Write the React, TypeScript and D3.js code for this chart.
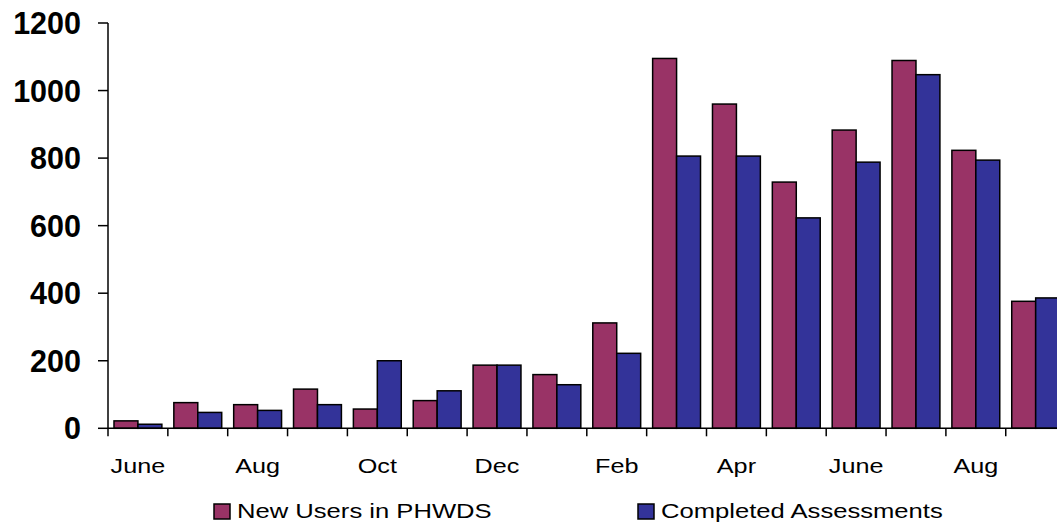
import React from "react";
import * as d3 from "d3";

// Monthly counts, June through the following September
const months = ["June", "July", "Aug", "Sept", "Oct", "Nov", "Dec", "Jan", "Feb", "Mar", "Apr", "May", "June", "July", "Aug", "Sept"];
const tickLabels = ["June", "", "Aug", "", "Oct", "", "Dec", "", "Feb", "", "Apr", "", "June", "", "Aug", ""];
const newUsers = [22, 76, 70, 116, 57, 82, 187, 159, 312, 1095, 960, 729, 883, 1089, 823, 376];
const completedAssessments = [12, 47, 53, 70, 200, 111, 187, 129, 222, 806, 806, 623, 788, 1047, 794, 386];
const yTicks = [0, 200, 400, 600, 800, 1000, 1200];

const seriesNames = ["New Users in PHWDS", "Completed Assessments"];
const seriesColors = ["#993366", "#333399"];

const W = 1057;
const H = 523;
const left = 108;
const step = 59.85;
const top = 23;
const bottom = 428.3;

export default function App() {
  const idx = months.map((_, i) => i);
  const x = d3.scaleBand<number>().domain(idx).range([left, left + step * months.length]).padding(0);
  const sub = d3
    .scaleBand<number>()
    .domain([0, 1])
    .range([0, x.bandwidth()])
    .paddingInner(0)
    .paddingOuter(0.25);
  const y = d3.scaleLinear().domain([0, 1200]).range([bottom, top]);
  const series = [newUsers, completedAssessments];
  const font = "'Liberation Sans', Arial, sans-serif";

  const boundaries = d3.range(months.length + 1).map((i) => left + i * x.step());

  return (
    <svg width={W} height={H} style={{ position: "absolute", left: 0, top: 0, background: "#fff" }}>
      {/* bars */}
      {idx.map((i) =>
        series.map((vals, s) => (
          <rect
            key={`${i}-${s}`}
            x={(x(i) as number) + (sub(s) as number)}
            y={y(vals[i])}
            width={sub.bandwidth()}
            height={y(0) - y(vals[i])}
            fill={seriesColors[s]}
            stroke="#000"
            strokeWidth={1.5}
          />
        ))
      )}

      {/* y axis */}
      <line x1={left} x2={left} y1={y(1200)} y2={y(0)} stroke="#000" strokeWidth={1.5} />
      {yTicks.map((t) => (
        <g key={t}>
          <line x1={left - 10} x2={left} y1={y(t)} y2={y(t)} stroke="#000" strokeWidth={1.5} />
          <text
            x={81}
            y={y(t)}
            dy="0.36em"
            textAnchor="end"
            fontFamily={font}
            fontWeight="bold"
            fontSize={30.5}
            fill="#000"
          >
            {t}
          </text>
        </g>
      ))}

      {/* x axis */}
      <line x1={left} x2={W + 20} y1={y(0)} y2={y(0)} stroke="#000" strokeWidth={1.5} />
      {boundaries.map((bx, i) => (
        <line key={i} x1={bx} x2={bx} y1={y(0)} y2={y(0) + 8} stroke="#000" strokeWidth={1.5} />
      ))}
      {idx.map((i) =>
        tickLabels[i] ? (
          <text
            key={i}
            transform={`translate(${(x(i) as number) + x.bandwidth() / 2},473.3) scale(1.2,1)`}
            textAnchor="middle"
            fontFamily={font}
            fontSize={21}
            fill="#000"
          >
            {tickLabels[i]}
          </text>
        ) : null
      )}

      {/* legend */}
      {seriesNames.map((name, s) => {
        const lx = s === 0 ? 214 : 638;
        return (
          <g key={name}>
            <rect x={lx} y={504} width={16} height={15} fill={seriesColors[s]} stroke="#000" strokeWidth={1.5} />
            <text
              transform={`translate(${lx + 23},518.3) scale(1.22,1)`}
              fontFamily={font}
              fontSize={21}
              fill="#000"
            >
              {name}
            </text>
          </g>
        );
      })}
    </svg>
  );
}
